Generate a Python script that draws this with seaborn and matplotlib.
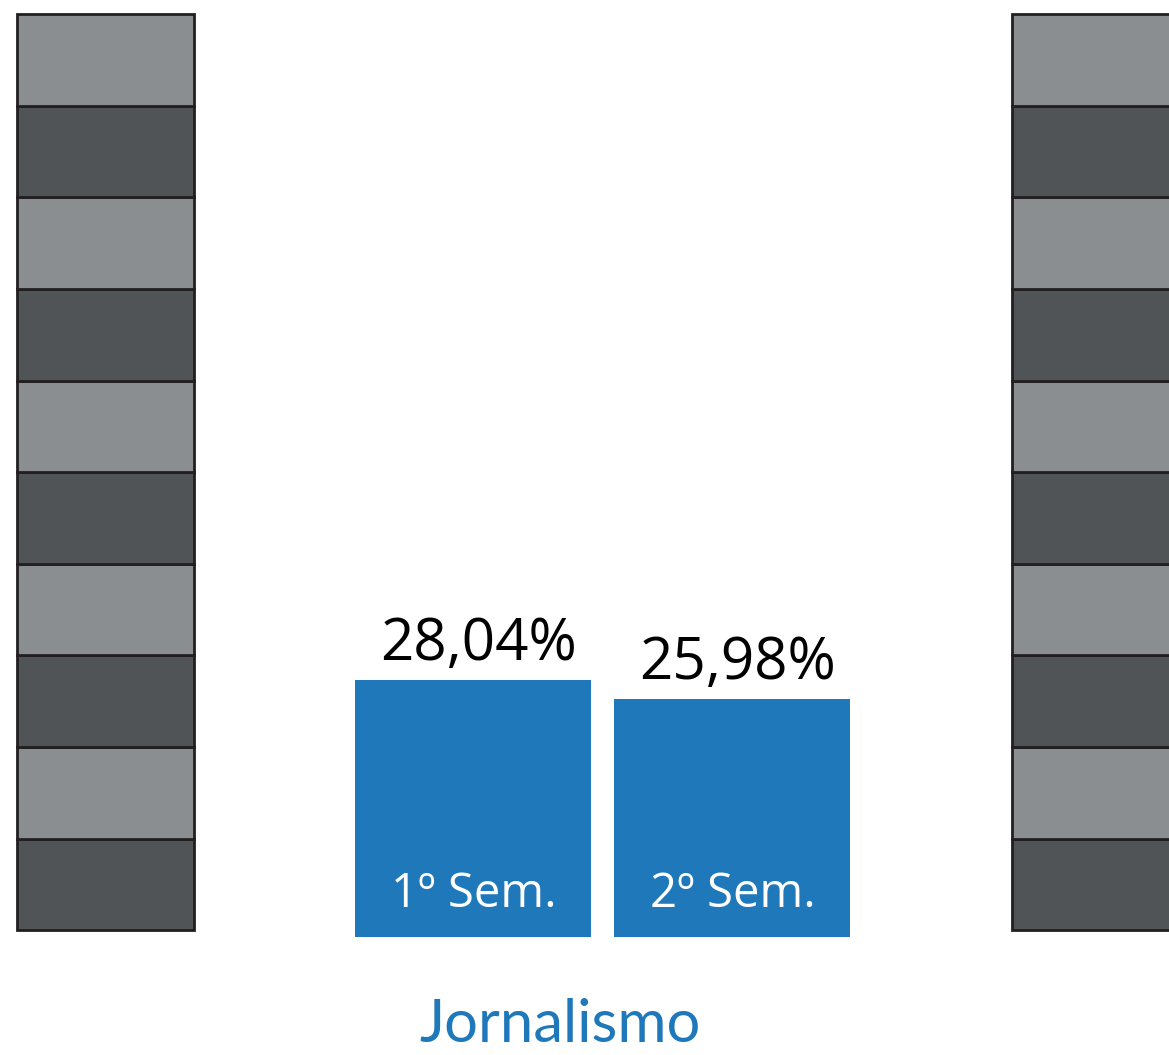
import numpy as np
import pandas as pd
import matplotlib.pyplot as plt
import seaborn as sns

# data
semesters = ['1º Sem.', '2º Sem.']
values = [28.04, 25.98]
value_labels = ['28,04%', '25,98%']
course = 'Jornalismo'
scale_steps = [10] * 10          # 0-100% ruler, 10% per block

blue = '#1f78b9'
gray_light = '#8a8e91'
gray_dark = '#505457'
edge = '#231f20'

sns.set_theme(style='white')
plt.rcParams['font.family'] = ['Open Sans', 'DejaVu Sans']

fig = plt.figure(figsize=(11.69, 10.55), dpi=100)
ax = fig.add_axes([0, 0, 1, 1])

df = pd.DataFrame({'sem': semesters, 'val': values})
sns.barplot(data=df, x='sem', y='val', color=blue, saturation=1,
            width=0.911, linewidth=0, ax=ax)

# gray rulers on both sides
bottoms = 0.75 + np.concatenate([[0], np.cumsum(scale_steps)[:-1]])
colors = [gray_light if i % 2 == 0 else gray_dark for i in range(len(scale_steps))][::-1]
for xc, w in [(-1.419, 0.684), (2.40, 0.64)]:
    ax.bar([xc] * len(scale_steps), scale_steps, bottom=bottoms, width=w,
           color=colors, edgecolor=edge, linewidth=2.0, zorder=3)

# labels
for i, (v, lab, sem) in enumerate(zip(values, value_labels, semesters)):
    ax.text(i + 0.02, v + 2.2, lab, ha='center', va='baseline',
            fontsize=42, color='black')
    ax.text(i + 0.005, 3.3, sem, ha='center', va='baseline',
            fontsize=34, color='white')

# Lato's J sits on the baseline like the original face
ax.text(0.336, -11.5, course, ha='center', va='baseline',
        fontsize=43, color=blue, family=['Lato', 'DejaVu Sans'])

ax.set_xlim(-1.826, 2.687)
ax.set_ylim(-12.88, 102.29)
ax.axis('off')

fig.savefig('out.png', dpi=100)
